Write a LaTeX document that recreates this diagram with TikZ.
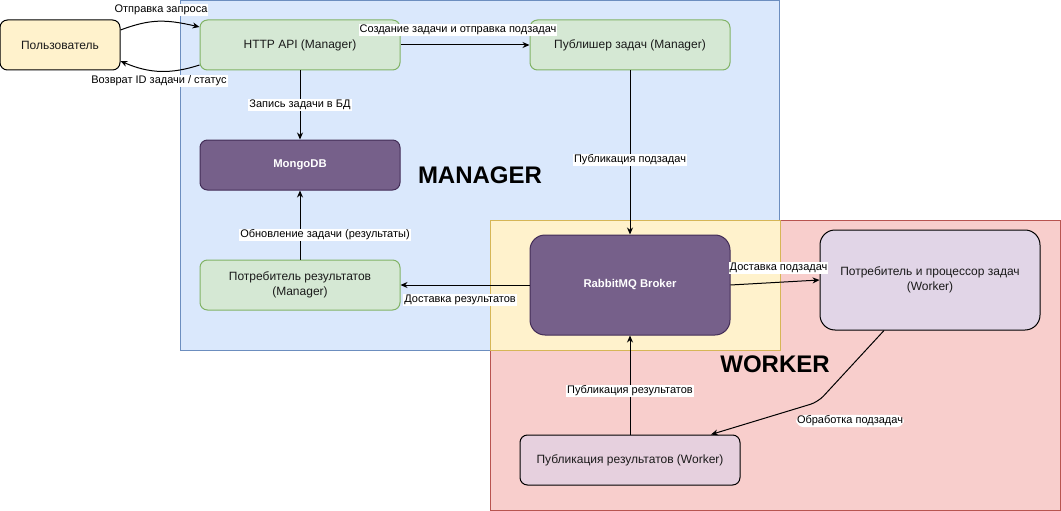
\documentclass[tikz,border=0pt]{standalone}
\usepackage{fontspec}
\setmainfont{Liberation Sans}
\usetikzlibrary{arrows.meta,calc}
\definecolor{mgrfill}{HTML}{DAE8FC}
\definecolor{mgrline}{HTML}{6C8EBF}
\definecolor{wrkfill}{HTML}{F8CECC}
\definecolor{wrkline}{HTML}{B85450}
\definecolor{yelfill}{HTML}{FFF2CC}
\definecolor{yelline}{HTML}{D6B656}
\definecolor{grnfill}{HTML}{D5E8D4}
\definecolor{grnline}{HTML}{82B366}
\definecolor{purfill}{HTML}{76608A}
\definecolor{purline}{HTML}{432D57}
\definecolor{lilfill}{HTML}{E1D5E7}
\definecolor{pinkfill}{HTML}{E6D0DE}
\definecolor{txt}{HTML}{1A1A1A}
\begin{document}
\begin{tikzpicture}[x=1pt,y=-1pt,
  box/.style={draw, line width=1pt, inner sep=0pt, align=center, text=txt,
    font=\fontsize{12}{14.5}\selectfont, minimum width=200pt, minimum height=50pt,
    rounded corners=7.5pt},
  greenbox/.style={box, fill=grnfill, draw=grnline},
  purplebox/.style={box, fill=purfill, draw=purline, text=white, font=\fontsize{11.3}{14}\selectfont\bfseries},
  arr/.style={draw=black, line width=1pt, -{Stealth[length=7pt,width=6pt]}},
  lbl/.style={fill=white, inner sep=1pt, text=black, font=\fontsize{11}{13}\selectfont},
  title/.style={font=\fontsize{24}{28}\selectfont\bfseries, text=black}
]
\useasboundingbox (0,0) rectangle (1061,511);
% regions
\draw[fill=mgrfill, draw=mgrline, line width=1pt] (180.5,0.5) rectangle (779.5,350.5);
\draw[fill=wrkfill, draw=wrkline, line width=1pt] (490.5,220.5) rectangle (1060.5,510.5);
\draw[fill=yelfill, draw=yelline, line width=1pt] (490.5,220.5) rectangle (780.5,350.5);
\node[title] (mgrtitle) at (480,175) {MANAGER};
\node[title] (wrktitle) at (775,364) {WORKER};
% nodes
\node[box, fill=yelfill, draw=black, minimum width=120pt] (user) at (60,45) {Пользователь};
\node[greenbox] (api) at (300,45) {HTTP API (Manager)};
\node[greenbox] (pub) at (630,45) {Публишер задач (Manager)};
\node[purplebox] (mongo) at (300,165) {MongoDB};
\node[greenbox] (rescons) at (300,285) {Потребитель результатов\\(Manager)};
\node[purplebox, minimum height=100pt, rounded corners=15pt] (rabbit) at (630,285) {RabbitMQ Broker};
\node[box, fill=lilfill, draw=black, minimum width=220pt, minimum height=100pt, rounded corners=15pt] (wcons) at (930,280) {Потребитель и процессор задач\\(Worker)};
\node[box, fill=pinkfill, draw=black, minimum width=220pt] (wpub) at (630,460) {Публикация результатов (Worker)};
% connectors
\draw[arr] ([yshift=15pt]user.east) .. controls (150,19) and (165,19) .. ([yshift=18pt]api.west);
\node[lbl] (l1) at (161,10) {Отправка запроса};
\draw[arr] ([yshift=-20pt]api.west) .. controls (172,74) and (150,74) .. ([yshift=-16pt]user.east);
\node[lbl] (l2) at (159,81) {Возврат ID задачи / статус};
\draw[arr] (api.east) -- (pub.west) node[lbl, pos=0.446, yshift=15pt] {Создание задачи и отправка подзадач};
\draw[arr] (api.south) -- (mongo.north) node[lbl, midway] {Запись задачи в БД};
\draw[arr] (pub.south) -- (rabbit.north) node[lbl, pos=0.545] {Публикация подзадач};
\draw[arr] (rescons.north) -- (mongo.south) node[lbl, pos=0.357, xshift=25pt] {Обновление задачи (результаты)};
\draw[arr] (rabbit.west) -- (rescons.east) node[lbl, pos=0.538, yshift=-15pt] {Доставка результатов};
\draw[arr] (rabbit.east) -- (wcons.west) node[lbl, pos=0.54, yshift=14.5pt] {Доставка подзадач};
\draw[arr, rounded corners=8pt] ([xshift=-46pt]wcons.south) -- (818,402) node[lbl, xshift=32pt, yshift=-19pt] {Обработка подзадач} -- ([xshift=81pt]wpub.north);
\draw[arr] (wpub.north) -- (rabbit.south) node[lbl, pos=0.44] {Публикация результатов};
\end{tikzpicture}
\end{document}
